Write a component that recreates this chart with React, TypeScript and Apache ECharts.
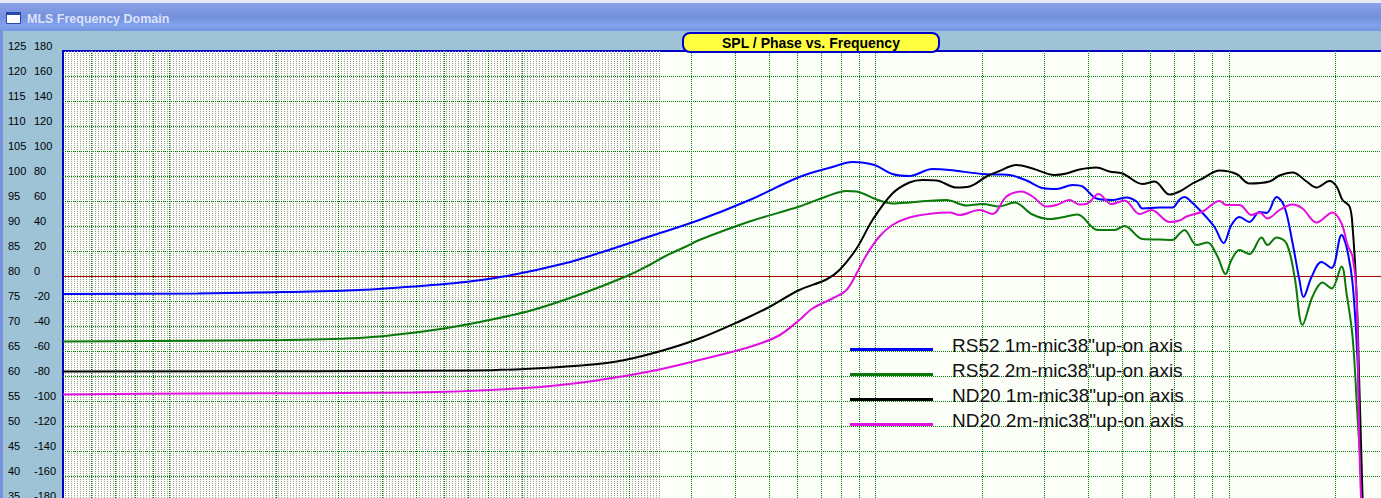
import React, { useEffect, useRef } from "react";
import * as echarts from "echarts";

const seriesNames = [
  'RS52 1m-mic38"up-on axis',
  'RS52 2m-mic38"up-on axis',
  'ND20 1m-mic38"up-on axis',
  'ND20 2m-mic38"up-on axis',
];
const seriesColors = ["#0000FF", "#0A780A", "#000000", "#E010E0"];

const rs52OneFreq = [5, 12, 18, 32, 45, 69, 92, 133, 165, 229, 317, 440, 609, 755, 861, 993, 1117, 1248, 1449, 1622, 2009, 2244, 2397, 2678, 2971, 3256, 3615, 3859, 4228, 4693, 5140, 5488, 5707, 6376, 6937, 7265, 7500, 7907, 8440, 9124, 9680, 10190, 10740, 11460, 12240, 12820, 13680, 14410, 15180, 15880, 16300, 17180, 18330, 19580, 20900, 21590, 22450, 23190, 23500, 23820, 24000];
const rs52OneSpl = [76.4, 76.5, 76.7, 77.1, 77.7, 78.8, 80.1, 82.6, 84.6, 87.9, 91.2, 95.2, 99.8, 101.8, 102.8, 102.2, 100.4, 100.0, 101.4, 101.2, 100.4, 100.3, 100.2, 99.1, 97.6, 97.4, 98.2, 97.9, 95.5, 95.2, 95.7, 94.9, 93.5, 93.7, 93.7, 95.3, 95.8, 94.6, 92.6, 89.8, 86.6, 90.2, 91.8, 90.8, 92.8, 92.6, 95.8, 93.8, 86.6, 79.2, 75.8, 79.8, 82.8, 81.6, 88.2, 85.8, 78.6, 63.2, 49.8, 35.8, 30];

const rs52TwoFreq = [5, 21, 36, 56, 77, 107, 148, 201, 229, 256, 291, 317, 440, 609, 726, 828, 884, 1007, 1117, 1248, 1395, 1589, 1810, 2009, 2244, 2476, 2785, 3111, 3473, 3735, 4256, 4754, 5075, 5707, 6376, 6937, 7265, 7500, 8119, 8719, 9308, 9806, 10190, 10740, 11460, 12404, 12896, 13680, 14600, 15380, 16200, 17298, 18462, 19580, 20900, 21590, 22450, 23190, 23820, 24000];
const rs52TwoSpl = [66.9, 67.2, 67.7, 69.2, 70.9, 73.2, 76.5, 80.2, 82.2, 84.1, 85.9, 87.2, 90.9, 93.9, 95.9, 97.0, 96.9, 95.3, 94.5, 94.7, 95.0, 95.2, 94.1, 94.4, 93.9, 94.7, 92.3, 91.4, 91.9, 92.3, 89.2, 89.2, 90.0, 87.4, 87.3, 87.2, 88.5, 89.2, 86.2, 86.7, 83.9, 80.4, 83.2, 85.2, 84.4, 87.7, 86.2, 87.7, 86.5, 79.9, 70.2, 75.9, 78.7, 77.5, 81.9, 76.5, 67.9, 51.9, 38.1, 30];

const nd20OneFreq = [5, 74, 133, 185, 244, 317, 420, 491, 609, 726, 791, 884, 981, 1117, 1248, 1359, 1489, 1696, 1846, 2063, 2244, 2506, 2785, 3214, 3473, 3783, 4228, 4600, 5009, 5707, 6173, 6808, 7265, 7907, 8440, 9430, 10537, 11460, 13066, 13950, 15180, 16634, 17755, 19320, 20230, 21030, 22020, 22450, 23040, 23500, 23960, 24100];
const nd20OneSpl = [60.9, 61.1, 61.9, 62.9, 64.9, 67.5, 71.2, 73.5, 77.2, 79.3, 81.2, 85.5, 91.2, 96.5, 98.7, 99.2, 99.1, 97.7, 97.9, 99.9, 101.0, 102.2, 101.5, 100.2, 100.5, 101.3, 101.7, 100.9, 100.5, 98.4, 98.9, 96.3, 96.9, 98.5, 99.5, 101.1, 100.4, 98.5, 98.9, 100.1, 100.7, 98.9, 97.7, 99.0, 97.9, 95.2, 93.9, 89.9, 76.6, 56.6, 35.8, 30];

const nd20TwoFreq = [5, 12, 49, 107, 165, 229, 317, 440, 530, 609, 663, 755, 828, 884, 943, 1026, 1117, 1248, 1449, 1622, 1730, 1971, 2145, 2350, 2592, 2785, 3050, 3256, 3545, 3783, 3987, 4283, 4662, 5075, 5597, 6053, 6808, 7265, 7603, 8440, 9430, 9869, 10740, 11622, 12240, 12896, 13950, 15180, 16200, 17755, 19702, 20900, 21735, 22450, 23040, 23500, 23900];
const nd20TwoSpl = [56.3, 56.5, 56.7, 57.7, 59.2, 60.9, 63.2, 65.8, 68.0, 71.2, 73.5, 75.5, 77.2, 80.5, 84.2, 87.9, 90.2, 91.7, 92.5, 92.7, 92.2, 93.2, 92.4, 95.9, 96.9, 95.9, 93.9, 94.2, 95.2, 94.3, 94.5, 96.4, 94.4, 95.1, 92.4, 93.2, 90.8, 91.1, 91.9, 92.9, 95.0, 94.2, 94.2, 92.2, 92.7, 91.5, 93.2, 94.3, 93.5, 90.7, 92.7, 90.5, 86.2, 83.9, 76.6, 44.6, 30];

// axis ranges / ticks
const freqMin = 5;
const freqMax = 30000;
const splMin = 35;
const splMax = 125;
const splStep = 5;
const phaseMin = -180;
const phaseMax = 180;
const phaseStep = 20;
const zeroPhaseSpl = 80;
const gridFreqs = [
  6, 7, 8, 9,
  10, 20, 30, 40, 50, 60, 70, 80, 90,
  100, 200, 300, 400, 500, 600, 700, 800, 900,
  1000, 2000, 3000, 4000, 5000, 6000, 7000, 8000, 9000,
  10000, 20000,
];
const gridSpl = [40, 45, 50, 55, 60, 65, 70, 75, 85, 90, 95, 100, 105, 110, 115, 120];
const hatchStartFreq = 5;
const hatchEndFreq = 244;

const FONT = "'Liberation Sans', Arial, sans-serif";
const GRID_GREEN = "#008000";

function buildOption(): any {
  const curves = [
    [rs52OneFreq, rs52OneSpl],
    [rs52TwoFreq, rs52TwoSpl],
    [nd20OneFreq, nd20OneSpl],
    [nd20TwoFreq, nd20TwoSpl],
  ];
  const lineSeries = curves.map(([f, v], i) => ({
    type: "line",
    name: seriesNames[i],
    data: f.map((fr, k) => [fr, v[k]]),
    xAxisIndex: 0,
    yAxisIndex: 0,
    symbol: "none",
    showSymbol: false,
    smooth: 0.35,
    z: 3,
    lineStyle: { color: seriesColors[i], width: 2 },
    itemStyle: { color: seriesColors[i] },
    silent: true,
  }));

  // background decoration: hatch of the low-frequency band, grid lines, 0° line
  const decor = {
    type: "custom",
    name: "decor",
    silent: true,
    z: 1,
    xAxisIndex: 0,
    yAxisIndex: 0,
    data: [[hatchStartFreq, splMax]],
    renderItem: (params: any, api: any) => {
      const cs = params.coordSys;
      const top = cs.y;
      const bottom = cs.y + cs.height;
      const left = cs.x;
      const right = cs.x + cs.width;
      const children: any[] = [];
      const xa = api.coord([hatchStartFreq, splMax])[0];
      const xb = api.coord([hatchEndFreq, splMax])[0];
      for (let x = Math.round(xa) + 2; x <= xb; x += 3) {
        children.push({
          type: "line",
          silent: true,
          shape: { x1: x + 0.5, y1: top, x2: x + 0.5, y2: bottom },
          style: { stroke: "#9a9a9a", lineWidth: 1, lineDash: [1, 1] },
        });
      }
      gridFreqs.forEach((f) => {
        const x = Math.round(api.coord([f, splMax])[0]) + 0.5;
        children.push({
          type: "line",
          silent: true,
          shape: { x1: x, y1: top, x2: x, y2: bottom },
          style: { stroke: GRID_GREEN, lineWidth: 1, lineDash: [1, 1] },
        });
      });
      gridSpl.forEach((v) => {
        const y = Math.round(api.coord([freqMin, v])[1]) + 0.5;
        children.push({
          type: "line",
          silent: true,
          shape: { x1: left, y1: y, x2: right, y2: y },
          style: { stroke: GRID_GREEN, lineWidth: 1, lineDash: [1, 1] },
        });
      });
      const y0 = Math.round(api.coord([freqMin, zeroPhaseSpl])[1]) + 0.5;
      children.push({
        type: "line",
        silent: true,
        shape: { x1: left, y1: y0, x2: right, y2: y0 },
        style: { stroke: "#B00000", lineWidth: 1 },
      });
      return { type: "group", children };
    },
  };

  const axisLabelBase = {
    show: true,
    align: "left",
    verticalAlign: "bottom",
    lineHeight: 10,
    color: "#000",
    fontFamily: FONT,
    fontSize: 11,
    showMinLabel: true,
    showMaxLabel: true,
  };

  return {
    animation: false,
    backgroundColor: "#9EC2D6",
    title: {
      text: "SPL / Phase vs. Frequency",
      left: 683,
      top: 33,
      padding: [2, 39, 1, 39],
      backgroundColor: "#FFFF40",
      borderColor: "#0000C8",
      borderWidth: 2,
      borderRadius: 7,
      textStyle: { fontFamily: FONT, fontWeight: "bold", fontSize: 14, color: "#000", lineHeight: 16 },
    },
    legend: {
      data: seriesNames,
      orient: "vertical",
      left: 850,
      top: 336,
      padding: 0,
      itemWidth: 83,
      itemHeight: 11,
      itemGap: 6,
      icon: "path://M0,0L1,0L1,0Z M0,8L1,8L1,11L0,11Z",
      symbolKeepAspect: false,
      itemStyle: { borderWidth: 0 },
      selectedMode: false,
      textStyle: {
        fontFamily: FONT,
        fontSize: 19,
        color: "#111",
        padding: [0, 0, 0, 14],
      },
    },
    graphic: [
      { type: "rect", silent: true, shape: { x: 0, y: 0, width: 1397, height: 3 }, style: { fill: "#E6EAF6" } },
      {
        type: "rect",
        silent: true,
        shape: { x: 0, y: 3, width: 1397, height: 28 },
        style: {
          fill: new echarts.graphic.LinearGradient(0, 0, 0, 1, [
            { offset: 0, color: "#8AA2E8" },
            { offset: 0.5, color: "#7590DC" },
            { offset: 0.8, color: "#80A2EC" },
            { offset: 1, color: "#7794DE" },
          ]),
        },
      },
      { type: "rect", silent: true, shape: { x: 0, y: 31, width: 3, height: 480 }, style: { fill: "#7690DC" } },
      { type: "rect", silent: true, shape: { x: 6.5, y: 12.5, width: 14, height: 11 }, style: { fill: "#FFFFFF", stroke: "#2A48A8", lineWidth: 1 } },
      { type: "rect", silent: true, shape: { x: 6, y: 12, width: 15, height: 3 }, style: { fill: "#2A48A8" } },
      {
        type: "text",
        silent: true,
        x: 27,
        y: 19,
        style: {
          text: "MLS Frequency Domain",
          fill: "#DCE2FA",
          fontFamily: FONT,
          fontWeight: "bold",
          fontSize: 12.5,
          verticalAlign: "middle",
          textShadowColor: "#4A60B8",
          textShadowOffsetX: 1,
          textShadowOffsetY: 1,
          textShadowBlur: 0,
        },
      },
    ],
    grid: {
      left: 63,
      right: 0,
      top: 51,
      bottom: 2,
      show: true,
      backgroundColor: "#FCFEF8",
      borderColor: "#0000C8",
      borderWidth: 2,
    },
    xAxis: {
      type: "log",
      logBase: 10,
      min: freqMin,
      max: freqMax,
      show: false,
      splitLine: { show: false },
    },
    yAxis: [
      {
        type: "value",
        position: "left",
        min: splMin,
        max: splMax,
        interval: splStep,
        axisLine: { show: false },
        axisTick: { show: false },
        splitLine: { show: false },
        axisLabel: { ...axisLabelBase, margin: 55 },
      },
      {
        type: "value",
        position: "left",
        offset: 0,
        min: phaseMin,
        max: phaseMax,
        interval: phaseStep,
        axisLine: { show: false },
        axisTick: { show: false },
        splitLine: { show: false },
        axisLabel: { ...axisLabelBase, margin: 29 },
      },
    ],
    series: [decor, ...lineSeries],
  };
}

export default function App() {
  const ref = useRef<HTMLDivElement>(null);
  useEffect(() => {
    if (!ref.current) return;
    const chart = echarts.init(ref.current, undefined, { renderer: "svg" });
    chart.setOption(buildOption());
    return () => chart.dispose();
  }, []);
  return (
    <div
      style={{
        position: "fixed",
        left: 0,
        top: 0,
        width: 1381,
        height: 498,
        overflow: "hidden",
        background: "#9EC2D6",
      }}
    >
      <div ref={ref} style={{ width: 1397, height: 503 }} />
    </div>
  );
}
